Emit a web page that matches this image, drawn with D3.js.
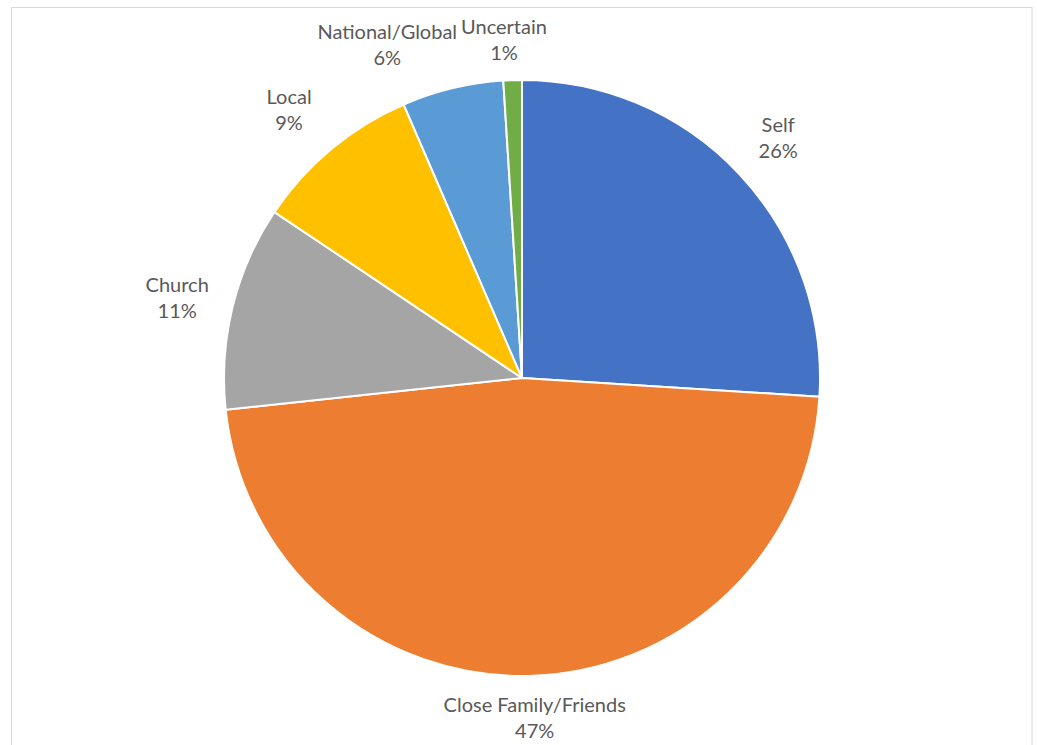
<!DOCTYPE html>
<html>
<head>
<meta charset="utf-8">
<script src="https://cdn.jsdelivr.net/npm/d3@7/dist/d3.min.js"></script>
<style>
  html, body { margin: 0; padding: 0; background: #fff; }
  svg { display: block; }
</style>
</head>
<body>
<svg id="chart" width="1037" height="745"></svg>
<script>
// ---- data ----
const categories = ["Self", "Close Family/Friends", "Church", "Local", "National/Global", "Uncertain"];
const values = [26.0, 47.3, 11.1, 9.1, 5.5, 1.0];
const colors = ["#4472C4", "#ED7D31", "#A5A5A5", "#FFC000", "#5B9BD5", "#70AD47"];

// ---- layout ----
const W = 1037, H = 745;
const cx = 522, cy = 378, R = 298;
const labelR = 350;
// label nudges (Excel best-fit placement)
const nudges = [[1, 0], [5, -10], [-5, 4], [-9, 1], [-53, 7], [-7, 12]];

const svg = d3.select("#chart");

// chart frame
svg.append("rect")
  .attr("x", 11.5).attr("y", 7.5)
  .attr("width", 1032 - 11.5).attr("height", 760)
  .attr("fill", "#fff").attr("stroke", "#d9d9d9").attr("stroke-width", 1);

const total = d3.sum(values);
const pie = d3.pie().sort(null).value(d => d.v);
const data = categories.map((c, i) => ({ c, v: values[i], col: colors[i], i }));
const arcs = pie(data);

const arc = d3.arc().innerRadius(0).outerRadius(R);
const labelArc = d3.arc().innerRadius(labelR).outerRadius(labelR);

const g = svg.append("g").attr("transform", `translate(${cx},${cy})`);

g.selectAll("path.slice")
  .data(arcs)
  .join("path")
  .attr("class", "slice")
  .attr("d", arc)
  .attr("fill", d => d.data.col)
  .attr("stroke", "#fff")
  .attr("stroke-width", 2)
  .attr("stroke-linejoin", "round");

const labels = g.selectAll("text.lbl")
  .data(arcs)
  .join("text")
  .attr("class", "lbl")
  .attr("text-anchor", "middle")
  .attr("font-family", "Lato, 'Open Sans', sans-serif")
  .attr("font-size", 20)
  .attr("fill", "#595959")
  .attr("transform", d => {
    const [x, y] = labelArc.centroid(d);
    const n = nudges[d.data.i];
    return `translate(${x + n[0]},${y + n[1]})`;
  });

labels.append("tspan")
  .attr("x", 0).attr("dy", -6)
  .text(d => d.data.c);
labels.append("tspan")
  .attr("x", 0).attr("dy", 26)
  .text(d => Math.round(d.data.v / total * 100) + "%");
</script>
</body>
</html>
